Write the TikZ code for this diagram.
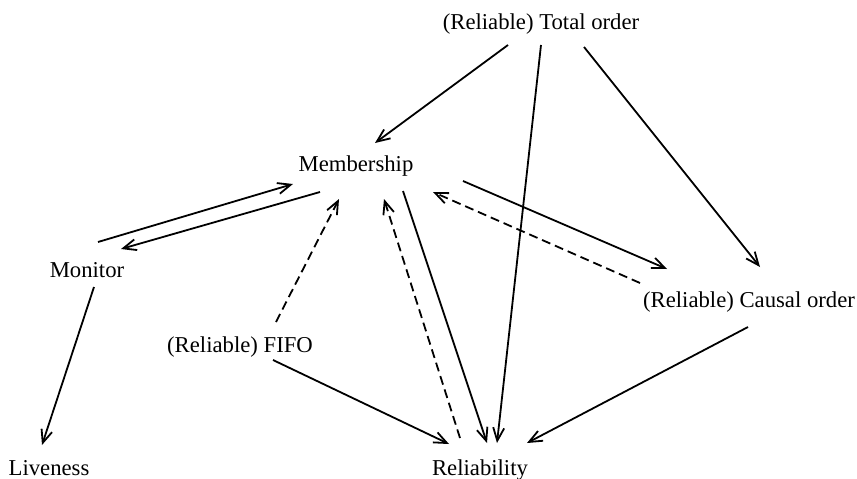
\documentclass[tikz,border=0pt]{standalone}
\usepackage{fontspec}
\setmainfont{Liberation Serif}
\usetikzlibrary{calc,arrows.meta}
\begin{document}
\begin{tikzpicture}[x=1pt,y=-1pt,
  lbl/.style={anchor=base,inner sep=0pt,font=\fontsize{22.7}{27}\selectfont},
  conn/.style={line width=1.8pt,-{Straight Barb[length=13pt,width=11pt,line width=1.8pt]}},
  dconn/.style={conn,dash pattern=on 9pt off 5pt}]
\useasboundingbox (0,0) rectangle (857,479);
\node[lbl] (tot) at (541,29) {(Reliable) Total order};
\node[lbl] (mem) at (356,171) {Membership};
\node[lbl] (mon) at (87,277) {Monitor};
\node[lbl] (cau) at (749,307) {(Reliable) Causal order};
\node[lbl] (fifo) at (240,352) {(Reliable) FIFO};
\node[lbl] (live) at (49,475) {Liveness};
\node[lbl] (rel) at (480,475) {Reliability};
\draw[conn] ($(tot.base)+(-33,16)$) -- ($(mem.base)+(19,-28)$);
\draw[conn] ($(tot.base)+(0,16)$) -- ($(rel.base)+(17,-32)$);
\draw[conn] ($(tot.base)+(43,18)$) -- ($(cau.base)+(11,-40)$);
\draw[conn] ($(mon.base)+(11,-35)$) -- ($(mem.base)+(-63,13)$);
\draw[conn] ($(mem.base)+(-36,21)$) -- ($(mon.base)+(34,-28)$);
\draw[dconn] ($(fifo.base)+(36,-30)$) -- ($(mem.base)+(-17,28)$);
\draw[dconn] ($(rel.base)+(-20,-37)$) -- ($(mem.base)+(28,28)$);
\draw[conn] ($(mem.base)+(47,20)$) -- ($(rel.base)+(7,-32)$);
\draw[conn] ($(mem.base)+(107,10)$) -- ($(cau.base)+(-82,-38)$);
\draw[dconn] ($(cau.base)+(-109,-24)$) -- ($(mem.base)+(77,21)$);
\draw[conn] ($(fifo.base)+(33,8)$) -- ($(rel.base)+(-31,-31)$);
\draw[conn] ($(cau.base)+(-1,20)$) -- ($(rel.base)+(47,-32)$);
\draw[conn] ($(mon.base)+(7,10)$) -- ($(live.base)+(-7,-30)$);
\end{tikzpicture}
\end{document}
